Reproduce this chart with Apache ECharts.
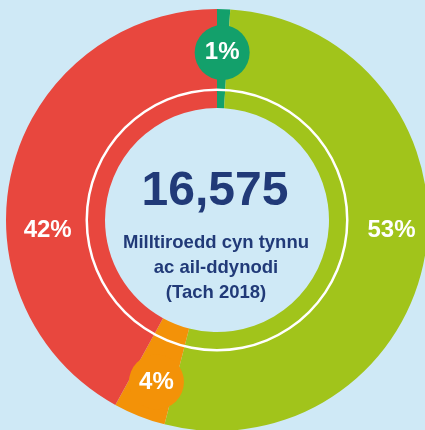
<!DOCTYPE html>
<html lang="cy">
<head>
    <meta charset="UTF-8">
    <title>Milltiroedd</title>
    <script src="https://cdn.jsdelivr.net/npm/echarts@6/dist/echarts.min.js"></script>
    <style>
        html, body { margin: 0; padding: 0; background: #cfe9f6; }
    </style>
</head>
<body>
<div id="main" style="width: 425px;height:430px;"></div>

<script type="text/javascript">
    // data (per cent of total miles), clockwise from 12 o'clock
    var categories = ['Gwyrdd', 'Calch', 'Oren', 'Coch'];
    var shares = [1, 53, 4, 42];
    var colours = ['#13a06b', '#a1c41b', '#f39208', '#e8473e'];
    var totalMiles = '16,575';
    var subLines = ['Milltiroedd cyn tynnu', 'ac ail-ddynodi', '(Tach 2018)'];

    // small nudges so the labels sit like the original
    var labelShift = [[0, -3], [12, -15], [0, 9], [-10, 51]];
    var badge = [true, false, true, false];

    var font = '"Liberation Sans", Arial, sans-serif';
    var navy = '#213a78';

    var pieData = categories.map(function (name, i) {
        var lab = {
            show: true,
            position: 'inside',
            formatter: '{c}%',
            color: '#fff',
            fontFamily: font,
            fontWeight: 'bold',
            fontSize: 24
        };
        if (badge[i]) {
            lab.backgroundColor = colours[i];
            lab.width = 55;
            lab.height = 55;
            lab.lineHeight = 55;
            lab.borderRadius = 28;
            lab.align = 'center';
        }
        return {
            name: name,
            value: shares[i],
            itemStyle: { color: colours[i] },
            label: lab
        };
    });

    var myChart = echarts.init(document.getElementById('main'));
    var option = {
        backgroundColor: '#cfe9f6',
        animation: false,
        series: [
            {
                type: 'pie',
                center: [217, 220],
                radius: [112, 211],
                startAngle: 90,
                clockwise: true,
                avoidLabelOverlap: false,
                emphasis: { disabled: true },
                itemStyle: { borderWidth: 0 },
                labelLine: { show: false },
                labelLayout: function (p) {
                    var s = labelShift[p.dataIndex];
                    return { dx: s[0], dy: s[1] };
                },
                data: pieData,
                z: 2
            },
            {
                // thin white ring over the donut
                type: 'pie',
                center: [217, 220],
                radius: [129, 131.5],
                silent: true,
                label: { show: false },
                labelLine: { show: false },
                itemStyle: { color: '#ffffff' },
                data: [1],
                z: 3
            }
        ],
        graphic: [
            {
                type: 'text',
                z: 10,
                style: {
                    text: totalMiles,
                    x: 215, y: 192,
                    textAlign: 'center',
                    textVerticalAlign: 'middle',
                    font: 'bold 48px ' + font,
                    fill: navy
                }
            },
            {
                type: 'text',
                z: 10,
                style: {
                    text: subLines.join('\n'),
                    x: 216, y: 268,
                    textAlign: 'center',
                    textVerticalAlign: 'middle',
                    lineHeight: 25,
                    font: 'bold 18.5px ' + font,
                    fill: navy
                }
            }
        ]
    };
    myChart.setOption(option);
</script>
</body>
</html>
